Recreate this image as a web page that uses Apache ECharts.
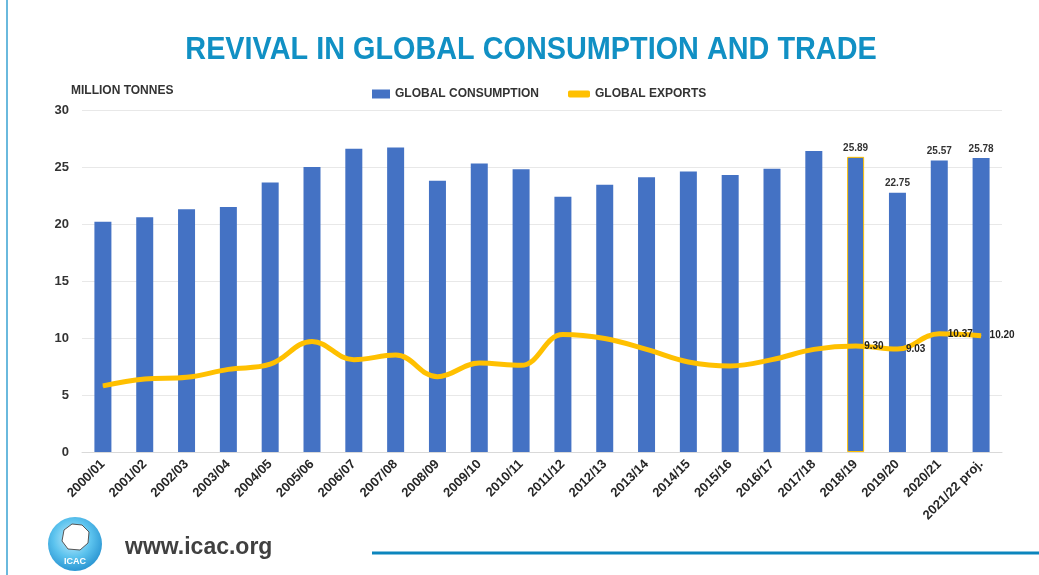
<!DOCTYPE html>
<html>
<head>
<meta charset="utf-8">
<script src="https://cdn.jsdelivr.net/npm/echarts@6/dist/echarts.min.js"></script>
<style>
html,body{margin:0;padding:0;background:#fff;}
#chart{width:1039px;height:575px;}
</style>
</head>
<body>
<div id="chart"></div>
<script>
const categories = ['2000/01','2001/02','2002/03','2003/04','2004/05','2005/06','2006/07','2007/08','2008/09','2009/10','2010/11','2011/12','2012/13','2013/14','2014/15','2015/16','2016/17','2017/18','2018/19','2019/20','2020/21','2021/22 proj.'];
const consumption = [20.2, 20.6, 21.3, 21.5, 23.65, 25.0, 26.6, 26.7, 23.8, 25.3, 24.8, 22.4, 23.45, 24.1, 24.6, 24.3, 24.85, 26.4, 25.89, 22.75, 25.57, 25.78];
const exportsData = [5.8, 6.4, 6.55, 7.25, 7.7, 9.7, 8.1, 8.5, 6.6, 7.8, 7.6, 10.3, 9.95, 9.0, 7.9, 7.55, 8.1, 9.0, 9.30, 9.03, 10.37, 10.20];
const labeledFrom = 18; // last four years carry value labels
const yTicks = {min: 0, max: 30, interval: 5};

const FONT = "'Liberation Sans', Arial, sans-serif";
const chart = echarts.init(document.getElementById('chart'), null, {renderer: 'canvas'});

const fmt2 = p => Number(p.value).toFixed(2);

const barData = consumption.map((v, i) => {
  const d = {value: v};
  if (i >= labeledFrom) d.label = {show: true};
  if (i === 18) d.itemStyle = {borderColor: '#FFC000', borderWidth: 1};
  return d;
});
const lineData = exportsData.map((v, i) => {
  const d = {value: v};
  if (i >= labeledFrom) d.label = {show: true};
  return d;
});

chart.setOption({
  backgroundColor: '#ffffff',
  animation: false,
  grid: {left: 82, right: 37, top: 110, bottom: 123},
  legend: [
    {
      left: 367, top: 83, itemWidth: 18, itemHeight: 9, itemGap: 10,
      data: [{name: 'GLOBAL CONSUMPTION', icon: 'rect'}],
      textStyle: {fontFamily: FONT, fontSize: 12, fontWeight: 'bold', color: '#333'}
    },
    {
      left: 563, top: 83, itemWidth: 22, itemHeight: 7,
      data: [{name: 'GLOBAL EXPORTS', icon: 'roundRect'}],
      textStyle: {fontFamily: FONT, fontSize: 12, fontWeight: 'bold', color: '#333'}
    }
  ],
  xAxis: {
    type: 'category',
    data: categories,
    axisTick: {show: false},
    axisLine: {lineStyle: {color: '#d9d9d9'}},
    axisLabel: {interval: 0, rotate: 45, margin: 10, fontFamily: FONT, fontSize: 13, fontWeight: 'bold', color: '#262626'}
  },
  yAxis: {
    type: 'value',
    min: yTicks.min, max: yTicks.max, interval: yTicks.interval,
    axisLine: {show: false},
    axisTick: {show: false},
    splitLine: {lineStyle: {color: '#e8e8e8'}},
    axisLabel: {margin: 13, fontFamily: FONT, fontSize: 13, fontWeight: 'bold', color: '#333'}
  },
  series: [
    {
      name: 'GLOBAL CONSUMPTION',
      type: 'bar',
      data: barData,
      barWidth: 17,
      itemStyle: {color: '#4472C4'},
      label: {show: false, position: 'top', distance: 4, formatter: fmt2, fontFamily: FONT, fontSize: 10, fontWeight: 'bold', color: '#333'},
      z: 2
    },
    {
      name: 'GLOBAL EXPORTS',
      type: 'line',
      data: lineData,
      smooth: 0.4,
      symbol: 'circle',
      symbolSize: 1,
      showSymbol: true,
      itemStyle: {color: '#FFC000'},
      lineStyle: {color: '#FFC000', width: 5},
      label: {show: false, position: 'right', distance: 8, formatter: fmt2, fontFamily: FONT, fontSize: 10, fontWeight: 'bold', color: '#222'},
      labelLayout: {hideOverlap: false},
      z: 3
    }
  ],
  graphic: [
    {type: 'line', shape: {x1: 7, y1: 0, x2: 7, y2: 575}, style: {stroke: '#6ab9dd', lineWidth: 2}},
    {
      type: 'text', x: 531, y: 50, scaleX: 0.93,
      style: {text: 'REVIVAL IN GLOBAL CONSUMPTION AND TRADE', align: 'center', verticalAlign: 'middle',
        font: "bold 31px 'Liberation Sans', Arial, sans-serif", fill: '#1190c4'}
    },
    {
      type: 'text', left: 71, top: 85,
      style: {text: 'MILLION TONNES', font: "bold 12px 'Liberation Sans', Arial, sans-serif", fill: '#333'}
    },
    {
      type: 'circle', shape: {cx: 75, cy: 544, r: 27},
      style: {fill: new echarts.graphic.RadialGradient(0.45, 0.4, 0.7, [
        {offset: 0, color: '#c9eefc'}, {offset: 0.5, color: '#5cc3ee'}, {offset: 1, color: '#1a86c9'}])}
    },
    {
      type: 'polygon', shape: {points: [[64,530],[72,524],[82,525],[89,532],[88,543],[80,550],[68,549],[62,541]]},
      style: {fill: '#ffffff', stroke: '#555', lineWidth: 1}
    },
    {
      type: 'text', x: 75, y: 562,
      style: {text: 'ICAC', align: 'center', verticalAlign: 'middle', font: "bold 9px 'Liberation Sans', Arial, sans-serif", fill: '#ffffff'}
    },
    {
      type: 'text', x: 125, y: 548,
      style: {text: 'www.icac.org', verticalAlign: 'middle', font: "bold 23px 'Liberation Sans', Arial, sans-serif", fill: '#404040'}
    },
    {type: 'line', shape: {x1: 372, y1: 553, x2: 1039, y2: 553}, style: {stroke: '#0c85bd', lineWidth: 3}}
  ]
});
</script>
</body>
</html>
